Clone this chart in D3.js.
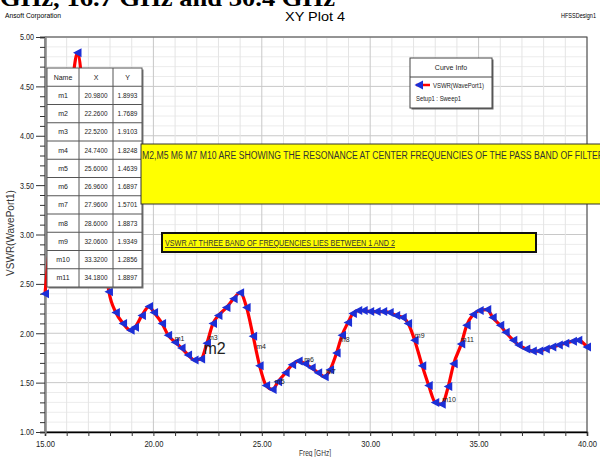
<!DOCTYPE html>
<html>
<head>
<meta charset="utf-8">
<script src="https://cdn.jsdelivr.net/npm/d3@7"></script>
<style>
  body { margin: 0; background: #fff; }
  svg { display: block; font-family: "Liberation Sans", Arial, sans-serif; }
</style>
</head>
<body>
<div class="chart"></div>
<script>
// sweep points (GHz / VSWR)
var freq = [15.0, 15.3, 15.6, 15.9, 16.2, 16.5, 16.8, 17.1, 17.4, 17.7, 17.95, 18.27, 18.6, 18.95, 19.15,
  19.47, 19.8, 20.03, 20.4, 20.68, 21.0, 21.3, 21.6, 21.9, 22.2, 22.47, 22.75, 23.0, 23.37, 23.7,
  24.0, 24.3, 24.6, 24.9, 25.2, 25.5, 25.75, 26.1, 26.4, 26.7, 27.0, 27.3, 27.6, 27.9, 28.15,
  28.45, 28.7, 28.98, 29.2, 29.45, 29.7, 30.0, 30.3, 30.6, 30.9, 31.2, 31.5, 31.75, 32.05, 32.4,
  32.7, 33.0, 33.3, 33.6, 33.85, 34.2, 34.45, 34.75, 35.05, 35.4, 35.65, 36.0, 36.25, 36.6, 36.85,
  37.2, 37.5, 37.8, 38.1, 38.4, 38.7, 39.0, 39.35, 39.6, 40.0];
var vswr = [2.40, 3.10, 3.70, 4.10, 4.45, 4.84, 4.35, 3.80, 3.30, 2.85, 2.42, 2.21, 2.10, 2.03, 2.06,
  2.18, 2.27, 2.21, 2.10, 1.98, 1.91, 1.85, 1.78, 1.73, 1.74, 1.90, 2.10, 2.18, 2.26, 2.35,
  2.41, 2.26, 1.97, 1.67, 1.47, 1.43, 1.51, 1.60, 1.68, 1.72, 1.69, 1.65, 1.60, 1.56, 1.63,
  1.80, 1.98, 2.11, 2.20, 2.23, 2.23, 2.22, 2.22, 2.22, 2.21, 2.18, 2.16, 2.10, 1.93, 1.67,
  1.47, 1.30, 1.28, 1.46, 1.69, 1.89, 2.08, 2.19, 2.23, 2.24, 2.16, 2.08, 2.01, 1.93, 1.88,
  1.84, 1.82, 1.82, 1.84, 1.86, 1.88, 1.90, 1.92, 1.93, 1.86];

// marker table
var markerNames = ["m1", "m2", "m3", "m4", "m5", "m6", "m7", "m8", "m9", "m10", "m11"];
var markerX = ["20.9800", "22.2600", "22.5200", "24.7400", "25.6000", "26.9600", "27.9600", "28.6000", "32.0600", "33.3200", "34.1800"];
var markerY = ["1.8993", "1.7689", "1.9103", "1.8248", "1.4639", "1.6897", "1.5701", "1.8873", "1.9349", "1.2856", "1.8897"];

var xTicks = [15, 20, 25, 30, 35, 40];
var yTicks = [1.0, 1.5, 2.0, 2.5, 3.0, 3.5, 4.0, 4.5, 5.0];

var note1 = "M2,M5 M6 M7 M10 ARE SHOWING THE RESONANCE AT CENTER FREQUENCIES OF THE PASS BAND OF FILTER";
var note2 = "VSWR AT THREE BAND OF FREQUENCIES LIES BETWEEN 1 AND 2";

var svgWidth = 600, svgHeight = 457;
var margin = { top: 37, right: 13, bottom: 25, left: 45 };
var width = svgWidth - margin.left - margin.right;
var height = svgHeight - margin.top - margin.bottom;

var svg = d3.select(".chart").append("svg")
  .attr("width", svgWidth)
  .attr("height", svgHeight);

// clipped caption of the page above the figure
svg.append("text")
  .attr("x", 0).attr("y", 6)
  .attr("font-family", "Liberation Serif, serif")
  .attr("font-weight", "bold")
  .attr("font-size", 24)
  .attr("textLength", 335).attr("lengthAdjust", "spacingAndGlyphs")
  .text("GHz, 16.7  GHz and 30.4 GHz");

svg.append("text").attr("x", 5).attr("y", 18).attr("font-size", 8)
  .attr("textLength", 56).attr("lengthAdjust", "spacingAndGlyphs")
  .text("Ansoft Corporation");
svg.append("text").attr("x", 315).attr("y", 21).attr("font-size", 13).attr("text-anchor", "middle")
  .attr("textLength", 60).attr("lengthAdjust", "spacingAndGlyphs")
  .text("XY Plot 4");
svg.append("text").attr("x", 596).attr("y", 18).attr("font-size", 8).attr("text-anchor", "end")
  .attr("textLength", 35).attr("lengthAdjust", "spacingAndGlyphs")
  .text("HFSSDesign1");

var chartGroup = svg.append("g")
  .attr("transform", `translate(${margin.left}, ${margin.top})`);

var xScale = d3.scaleLinear().domain([15, 40]).range([0, width]);
var yScale = d3.scaleLinear().domain([1, 5]).range([height, 0]);

// grid
chartGroup.append("g").selectAll("line")
  .data(d3.range(10, 51).map(d => d / 10))
  .enter().append("line")
  .attr("x1", 0).attr("x2", width)
  .attr("y1", d => yScale(d)).attr("y2", d => yScale(d))
  .attr("stroke", d => Math.abs(d * 2 - Math.round(d * 2)) < 1e-6 ? "#c8c8c8" : "#ececec")
  .attr("stroke-width", 1);
chartGroup.append("g").selectAll("line")
  .data(d3.range(15, 41))
  .enter().append("line")
  .attr("y1", 0).attr("y2", height)
  .attr("x1", d => xScale(d)).attr("x2", d => xScale(d))
  .attr("stroke", d => d % 5 === 0 ? "#c8c8c8" : "#e4e4e4")
  .attr("stroke-width", 1);

chartGroup.append("rect")
  .attr("width", width).attr("height", height)
  .attr("fill", "none").attr("stroke", "#444").attr("stroke-width", 1);

// axes
var bottomAxis = d3.axisBottom(xScale).tickValues(d3.range(15, 41)).tickSize(4)
  .tickFormat(d => xTicks.indexOf(d) >= 0 ? d3.format(".2f")(d) : "");
var leftAxis = d3.axisLeft(yScale).tickValues(d3.range(10, 51).map(d => d / 10))
  .tickSize(5).tickFormat(d => yTicks.some(t => Math.abs(t - d) < 1e-6) ? d3.format(".2f")(d) : "");

var gx = chartGroup.append("g").attr("transform", `translate(0, ${height})`).call(bottomAxis);
gx.select(".domain").attr("stroke", "#000").attr("stroke-width", 1.5);
gx.selectAll(".tick line").attr("stroke", "#333");
gx.selectAll(".tick text").attr("font-size", 9).attr("fill", "#222").attr("dy", "0.9em")
  .each(function () { if (this.textContent) d3.select(this).attr("textLength", 19).attr("lengthAdjust", "spacingAndGlyphs"); });

var gy = chartGroup.append("g").call(leftAxis);
gy.select(".domain").attr("stroke", "#888").attr("stroke-width", 2.5);
gy.selectAll(".tick line").attr("stroke", "#333")
  .attr("x2", d => yTicks.some(t => Math.abs(t - d) < 1e-6) ? -9 : -5);
gy.selectAll(".tick text").attr("font-size", 9).attr("fill", "#222").attr("x", -11)
  .each(function () { if (this.textContent) d3.select(this).attr("textLength", 14).attr("lengthAdjust", "spacingAndGlyphs"); });

svg.append("text")
  .attr("transform", "rotate(-90)")
  .attr("x", -233).attr("y", 14)
  .attr("text-anchor", "middle").attr("font-size", 10).attr("fill", "#333")
  .text("VSWR(WavePort1)");
svg.append("text")
  .attr("x", 315).attr("y", 456)
  .attr("text-anchor", "middle").attr("font-size", 9).attr("fill", "#333")
  .attr("textLength", 32).attr("lengthAdjust", "spacingAndGlyphs")
  .text("Freq [GHz]");

// curve
var pts = freq.map((f, i) => ({ f: f, v: vswr[i] }));
var line = d3.line().x(d => xScale(d.f)).y(d => yScale(d.v)).curve(d3.curveMonotoneX);
var plot = chartGroup.append("g");
plot.append("path").datum(pts)
  .attr("d", line).attr("fill", "none")
  .attr("stroke", "#ff0000").attr("stroke-width", 3.2);
var tri = "M-4.5,0L4,-4.5L4,4.5Z";
plot.selectAll(".mk").data(pts).enter().append("path")
  .attr("class", "mk")
  .attr("d", tri)
  .attr("transform", d => `translate(${xScale(d.f)},${yScale(d.v)})`)
  .attr("fill", "#1c2fd6");

// marker labels
var mk = markerNames.map((n, i) => ({ n: n, f: +markerX[i], v: +markerY[i] }));
plot.selectAll(".ml").data(mk).enter().append("text")
  .attr("class", "ml")
  .attr("x", d => xScale(d.f) + (d.n === "m2" ? 1 : 0))
  .attr("y", d => yScale(d.v) - 2)
  .attr("font-size", d => d.n === "m2" ? 16 : 7)
  .attr("fill", "#222")
  .text(d => d.n);

// marker table
var tbl = svg.append("g").attr("transform", "translate(47,68)");
var colX = [0, 32, 66, 95];
var rowH = 18.25;
var rows = [["Name", "X", "Y"]].concat(markerNames.map((n, i) => [n, markerX[i], markerY[i]]));
tbl.append("rect").attr("x", 1.5).attr("y", 1.5).attr("width", 95).attr("height", rowH * rows.length)
  .attr("fill", "#777");
tbl.append("rect").attr("width", 95).attr("height", rowH * rows.length)
  .attr("fill", "#fff").attr("stroke", "#555").attr("stroke-width", 1);
rows.forEach(function (r, i) {
  if (i > 0) {
    tbl.append("line").attr("x1", 0).attr("x2", 95).attr("y1", i * rowH).attr("y2", i * rowH)
      .attr("stroke", "#555").attr("stroke-width", 1);
  }
  r.forEach(function (c, j) {
    var t = tbl.append("text")
      .attr("x", (colX[j] + colX[j + 1]) / 2).attr("y", i * rowH + rowH / 2 + 2.5)
      .attr("text-anchor", "middle").attr("font-size", 7).attr("fill", "#222")
      .text(c);
    if (c.length > 4) t.attr("textLength", c.length * 3.3).attr("lengthAdjust", "spacingAndGlyphs");
  });
});
[32, 66].forEach(function (x) {
  tbl.append("line").attr("x1", x).attr("x2", x).attr("y1", 0).attr("y2", rowH * rows.length)
    .attr("stroke", "#555").attr("stroke-width", 1);
});

// legend box
var lg = svg.append("g").attr("transform", "translate(410,58)");
lg.append("rect").attr("x", 1.5).attr("y", 1.5).attr("width", 82).attr("height", 50).attr("fill", "#666");
lg.append("rect").attr("width", 82).attr("height", 50).attr("fill", "#fff").attr("stroke", "#444");
lg.append("text").attr("x", 41).attr("y", 12).attr("text-anchor", "middle").attr("font-size", 7)
  .attr("fill", "#222").text("Curve Info");
lg.append("line").attr("x1", 0).attr("x2", 82).attr("y1", 19).attr("y2", 19).attr("stroke", "#444");
lg.append("line").attr("x1", 6).attr("x2", 20).attr("y1", 27).attr("y2", 27)
  .attr("stroke", "#ff0000").attr("stroke-width", 2.5);
lg.append("path").attr("d", tri).attr("transform", "translate(9,27)").attr("fill", "#1c2fd6");
lg.append("text").attr("x", 23).attr("y", 30).attr("font-size", 7).attr("fill", "#222")
  .attr("textLength", 51).attr("lengthAdjust", "spacingAndGlyphs").text("VSWR(WavePort1)");
lg.append("text").attr("x", 6).attr("y", 43).attr("font-size", 7).attr("fill", "#222")
  .attr("textLength", 45).attr("lengthAdjust", "spacingAndGlyphs").text("Setup1 : Sweep1");

// yellow notes
svg.append("rect").attr("x", 141).attr("y", 144).attr("width", 470).attr("height", 60)
  .attr("fill", "#ffff00").attr("stroke", "#333").attr("stroke-width", 1);
svg.append("text").attr("x", 142).attr("y", 159).attr("font-size", 10).attr("fill", "#333")
  .attr("textLength", 462).attr("lengthAdjust", "spacingAndGlyphs").text(note1);

svg.append("rect").attr("x", 162).attr("y", 233).attr("width", 374).attr("height", 19)
  .attr("fill", "#ffff00").attr("stroke", "#111").attr("stroke-width", 2);
svg.append("text").attr("x", 165).attr("y", 246).attr("font-size", 8.5).attr("fill", "#333")
  .attr("text-decoration", "underline")
  .attr("textLength", 230).attr("lengthAdjust", "spacingAndGlyphs").text(note2);
</script>
</body>
</html>
